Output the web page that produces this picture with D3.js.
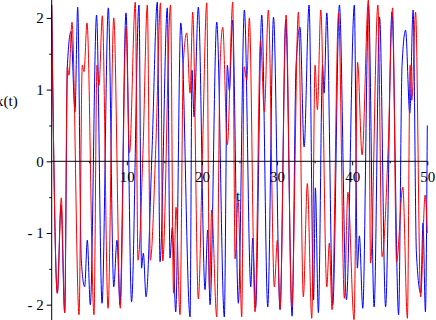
<!DOCTYPE html>
<html>
<head>
<meta charset="utf-8">
<script src="https://cdn.jsdelivr.net/npm/d3@7"></script>
<style>
  body { margin: 0; background: #fff; }
  text { font-family: "Liberation Serif", "DejaVu Serif", serif; }
</style>
</head>
<body>
<div id="chart"></div>
<script>
// turning points (t, x(t))
const redT = [0, 0.75, 1.28, 1.73, 2.08, 2.30, 2.70, 3.64, 4.07, 4.30, 4.70, 5.63, 6.03, 6.30, 6.74,
  7.50, 8.26, 9.13, 9.89, 10.36, 11.13, 11.49, 12.16, 12.73, 13.13, 13.89, 14.49, 14.78, 15.82,
  16.22, 16.55, 17.08, 17.52, 17.98, 18.42, 18.77, 19.52, 20.08, 20.64, 21.01, 21.30, 21.97,
  22.41, 22.77, 23.38, 24.10, 24.41, 24.81, 25.30, 25.61, 25.97, 26.31, 27.07, 27.80, 28.31,
  28.84, 29.64, 30.04, 30.40, 31.20, 31.96, 32.84, 33.50, 34.03, 34.62, 35.06, 35.37, 35.82,
  36.62, 36.96, 37.32, 38.19, 38.96, 39.43, 40.25, 40.72, 41.32, 42.16, 42.45, 43.42, 43.98,
  44.78, 45.38, 45.91, 46.74, 47.35, 47.71, 47.94, 48.44, 49.11, 49.71, 50];
const redV = [2.18, -1.84, -0.51, -2.11, 1.32, 1.20, 1.94, -2.14, 1.34, 1.25, 1.93, -2.14, 1.34, 1.06, 2.03,
  -2.05, 2.00, -2.05, 1.87, 0.12, 2.22, -1.38, 0.16, 2.18, -1.38, 0.30, 2.21, -1.39, 2.18,
  -1.84, -0.64, -2.14, 1.37, 1.79, 0.95, 2.08, -1.92, 0.16, 2.21, -1.79, -0.68, -2.17,
  1.32, 1.87, 0.23, 2.22, -1.36, -0.54, -2.17, 1.32, 1.13, 2.00, -2.10, 1.69, 0.69,
  2.11, -1.75, -1.10, -2.05, 2.04, -2.03, 2.08, -1.89, -0.31, -2.19, 1.34, 0.72, 2.11,
  -1.75, -1.14, -2.07, 2.07, -1.91, -0.43, -2.21, 1.38, 0.09, 2.25, -1.42, 2.18, -1.33,
  0.16, 2.14, -1.40, -0.36, -2.19, 1.34, 0.85, 2.08, -1.89, -0.47, -1.0];

const blueT = [0, 0.75, 1.24, 1.73, 2.10, 2.57, 3.10, 3.46, 3.94, 4.39, 4.74, 5.14, 5.97, 6.70, 7.54,
  8.26, 8.69, 9.09, 9.89, 10.63, 11.62, 11.96, 12.20, 12.56, 13.36, 14.06, 14.42, 15.39, 15.75,
  16.06, 16.51, 17.18, 18.42, 18.68, 18.95, 19.52, 20.41, 20.77, 21.08, 21.97, 22.98, 23.38,
  23.65, 24.07, 24.85, 25.65, 26.50, 26.76, 27.14, 27.96, 28.76, 29.53, 30.40, 31.16, 32.00,
  32.53, 33.06, 33.60, 34.26, 34.86, 35.10, 35.50, 36.06, 36.26, 36.62, 37.42, 38.30, 39.23,
  40.29, 40.69, 40.96, 41.41, 42.18, 42.92, 43.65, 44.45, 45.29, 46.18, 46.64, 47.11, 47.67,
  48.11, 48.55, 49.13, 49.43, 49.75, 50];
const blueV = [2.18, -1.84, -0.61, -2.11, 1.36, 1.81, 0.69, 2.15, -1.38, -1.75, -1.10, -2.00, 2.04, -1.98, 2.14,
  -1.75, -1.10, -2.00, 2.07, -1.96, 2.18, -1.49, -1.28, -1.89, 0.16, 2.22, -1.40, 2.14, -1.35,
  -0.92, -2.10, 1.93, -2.17, 1.27, 0.62, 2.15, -1.79, -0.96, -2.00, 1.94, -2.17, 1.34,
  0.99, 1.97, -1.98, 2.11, -1.75, -1.07, -2.05, 2.04, -2.03, 2.01, -2.07, 1.97, -2.16,
  1.34, 1.87, 0.20, 2.18, -1.93, -0.37, -2.11, 1.34, 0.95, 2.07, -2.00, 2.18, -1.93,
  2.18, -1.49, -1.04, -2.05, 2.18, -2.03, 2.01, -2.03, 2.08, -2.14, 1.34, 1.83, 0.67,
  2.11, -1.28, -1.84, -0.86, -2.10, 0.5];

const xTicks = [10, 20, 30, 40, 50];
const xMinor = [5, 15, 25, 35, 45];
const yTicks = [-2, -1, 0, 1, 2];
const yMinor = [-1.5, -0.5, 0.5, 1.5];

const W = 436, H = 320;

const svg = d3.select("#chart")
    .append("svg")
    .attr("width", W)
    .attr("height", H);

const x = d3.scaleLinear().domain([0, 50]).range([51.7, 427.3]);
const y = d3.scaleLinear().domain([-2, 2]).range([304.7, 17.9]);

const red = redT.map((t, i) => ({ t: t, v: redV[i] }));
const blue = blueT.map((t, i) => ({ t: t, v: blueV[i] }));

const line = d3.line()
    .x(d => x(d.t))
    .y(d => y(d.v))
    .curve(d3.curveMonotoneX);

// curves (blue first, red on top)
svg.append("path")
    .datum(blue)
    .attr("d", line)
    .attr("fill", "none")
    .attr("stroke", "#0000ff")
    .attr("stroke-width", 1);

svg.append("path")
    .datum(red)
    .attr("d", line)
    .attr("fill", "none")
    .attr("stroke", "#ff0000")
    .attr("stroke-width", 1);

// axes
const fmt = d => d < 0 ? "- " + Math.abs(d) : String(d);

const yAxis = svg.append("g")
    .attr("transform", `translate(${x(0)},0)`)
    .call(d3.axisLeft(y).tickValues(yTicks).tickSize(5).tickPadding(3).tickFormat(fmt));
svg.append("g")
    .attr("transform", `translate(${x(0)},0)`)
    .call(d3.axisLeft(y).tickValues(yMinor).tickSize(2.5).tickFormat(""));

const xAxis = svg.append("g")
    .attr("transform", `translate(0,${y(0)})`)
    .call(d3.axisBottom(x).tickValues(xTicks).tickSize(4).tickPadding(6));
svg.append("g")
    .attr("transform", `translate(0,${y(0)})`)
    .call(d3.axisBottom(x).tickValues(xMinor).tickSize(2).tickFormat(""));

svg.selectAll(".domain").remove();
svg.selectAll(".tick line").attr("stroke", "#000");
svg.selectAll(".tick text")
    .attr("fill", "#000")
    .style("font-family", '"Liberation Serif", serif')
    .style("font-size", "15px");

// axis lines
svg.append("line")
    .attr("x1", x(0)).attr("x2", x(0))
    .attr("y1", 0).attr("y2", H)
    .attr("stroke", "#000");
svg.append("line")
    .attr("x1", x(0)).attr("x2", x(50))
    .attr("y1", y(0)).attr("y2", y(0))
    .attr("stroke", "#000");

// axis labels
svg.append("text")
    .attr("x", -4)
    .attr("y", 106)
    .style("font-size", "15px")
    .text("x(t)");
svg.append("text")
    .attr("x", 238)
    .attr("y", 201)
    .attr("text-anchor", "middle")
    .style("font-size", "15px")
    .text("t");
</script>
</body>
</html>
